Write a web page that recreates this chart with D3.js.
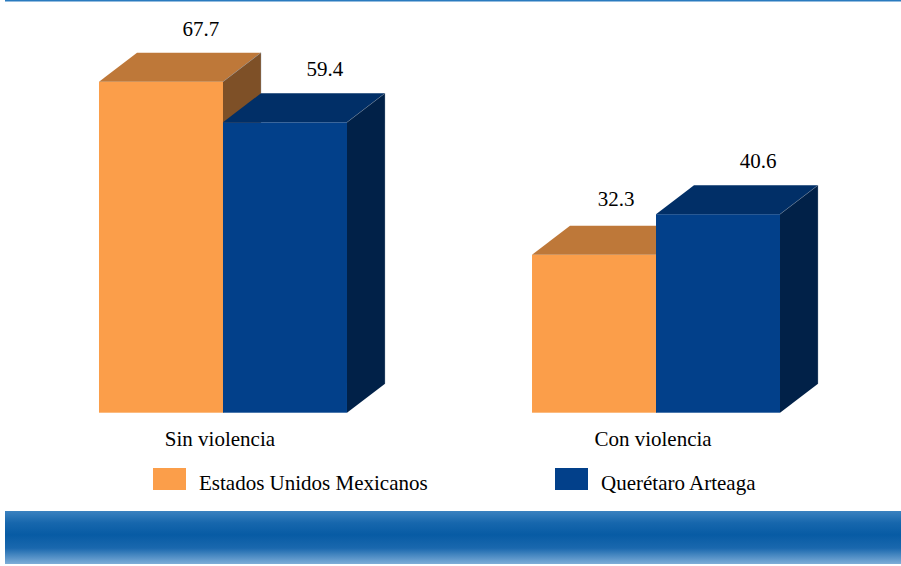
<!DOCTYPE html>
<html>
<head>
<meta charset="utf-8">
<script src="https://cdn.jsdelivr.net/npm/d3@7"></script>
<style>
  html, body { margin: 0; padding: 0; background: #ffffff; }
  svg { display: block; }
</style>
</head>
<body>
<svg id="chart" width="901" height="566"></svg>
<script>
const categories = ["Sin violencia", "Con violencia"];
const seriesNames = ["Estados Unidos Mexicanos", "Querétaro Arteaga"];
const estadosValues = [67.7, 32.3];
const queretaroValues = [59.4, 40.6];

const W = 901, H = 566;
const svg = d3.select("#chart");

function txt(sel) {
  return sel.style("font-family", '"Liberation Serif"').style("font-size", "21px").style("fill", "#000");
}

const palette = [
  { front: "#FB9E4A", top: "#BE7839", side: "#7E5027" },
  { front: "#02408A", top: "#012F67", side: "#012148" }
];

// top line
svg.append("rect").attr("x", 5).attr("y", 0).attr("width", W - 5).attr("height", 1.5).attr("fill", "#2a7bbf");

// bottom gradient band
const defs = svg.append("defs");
const grad = defs.append("linearGradient").attr("id", "band").attr("x1", 0).attr("y1", 0).attr("x2", 0).attr("y2", 1);
[[0, "#3b82c0"], [0.22, "#1767ad"], [0.45, "#075ba4"], [0.7, "#1a68ae"], [1, "#7eaed8"]].forEach(([o, c]) =>
  grad.append("stop").attr("offset", o).attr("stop-color", c));
svg.append("rect").attr("x", 5).attr("y", 511).attr("width", W - 5).attr("height", 53).attr("fill", "url(#band)");

// scales
const x0 = d3.scaleBand().domain(categories).range([6.5, 872.5]).paddingInner(0.4273).paddingOuter(0.2136);
const x1 = d3.scaleBand().domain(seriesNames).range([0, x0.bandwidth()]);
const y = d3.scaleLinear().domain([0, 80]).range([412.7, 21.6]);
const DX = 38, DY = -29;

const rows = [];
categories.forEach((c, i) => {
  rows.push({ cat: c, s: 0, v: estadosValues[i] });
  rows.push({ cat: c, s: 1, v: queretaroValues[i] });
});

rows.forEach(d => {
  const xl = x0(d.cat) + x1(seriesNames[d.s]);
  const w = x1.bandwidth();
  const yt = y(d.v), yb = y(0);
  const col = palette[d.s];
  const g = svg.append("g");
  g.append("rect").attr("x", xl).attr("y", yt).attr("width", w).attr("height", yb - yt).attr("fill", col.front);
  g.append("path").attr("d", `M${xl},${yt} L${xl + DX},${yt + DY} L${xl + w + DX},${yt + DY} L${xl + w},${yt} Z`)
    .attr("fill", col.top);
  g.append("path").attr("d", `M${xl + w},${yt} L${xl + w + DX},${yt + DY} L${xl + w + DX},${yb + DY} L${xl + w},${yb} Z`)
    .attr("fill", col.side);
  g.append("line").attr("x1", xl + w).attr("y1", yt).attr("x2", xl + w + DX).attr("y2", yt + DY)
    .attr("stroke", "#8a96a8").attr("stroke-width", 0.6).attr("stroke-opacity", 0.6);
  g.append("line").attr("x1", xl + w + DX).attr("y1", yt + DY).attr("x2", xl + w + DX).attr("y2", yb + DY)
    .attr("stroke", "#8a96a8").attr("stroke-width", 0.6).attr("stroke-opacity", 0.6);
});

// value labels: centred over the back edge of each top face;
// a label that would sit over its neighbour's taller top face is nudged left
rows.forEach(d => {
  const xl = x0(d.cat) + x1(seriesNames[d.s]);
  const w = x1.bandwidth();
  const neighbour = rows.find(r => r.cat === d.cat && r.s === d.s + 1);
  const blocked = neighbour && neighbour.v > d.v;
  txt(svg.append("text"))
    .attr("x", xl + w / 2 + DX + (blocked ? -16 : 2))
    .attr("y", y(d.v) + DY - (blocked ? 20 : 17))
    .attr("text-anchor", "middle")
    .text(d.v.toFixed(1));
});

// category labels
categories.forEach(c => {
  txt(svg.append("text"))
    .attr("x", x0(c) + x0.bandwidth() / 2 - 3)
    .attr("y", 446)
    .attr("text-anchor", "middle")
    .text(c);
});

// legend
const legendX = [153, 555];
seriesNames.forEach((s, i) => {
  svg.append("rect").attr("x", legendX[i]).attr("y", 468).attr("width", 33).attr("height", 22).attr("fill", palette[i].front);
  txt(svg.append("text")).attr("x", legendX[i] + 46).attr("y", 490).text(s);
});
</script>
</body>
</html>
